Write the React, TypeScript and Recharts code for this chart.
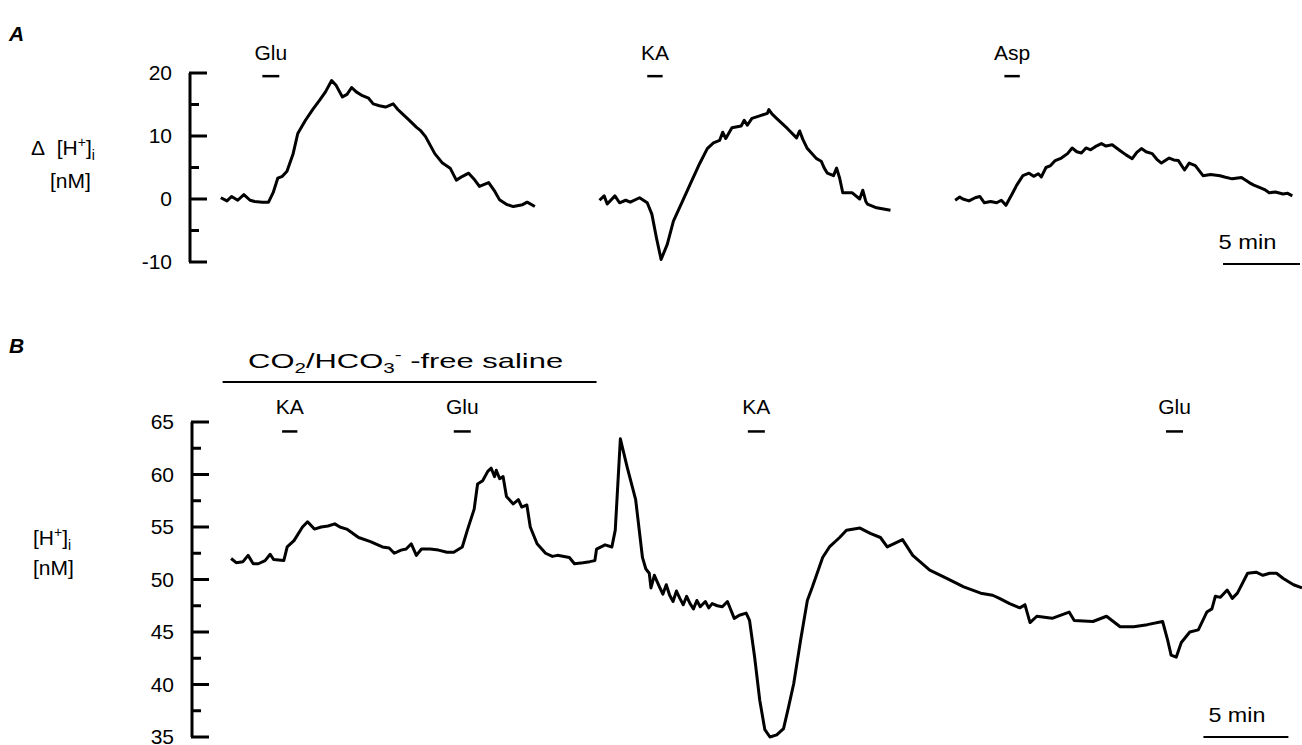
import { LineChart, Line, XAxis, YAxis, ReferenceLine } from "recharts";

const FONT = '"Liberation Sans", Arial, Helvetica, sans-serif';
const INK = "#000";
const FS = 21;

type Pt = [number, number];

// ── A: Δ[H+]i (nM) vs time (min), three separate recordings on one time base ──
const gluTraceA: Pt[] = [
  [2.0, 0.2], [2.4, -0.3], [2.7, 0.4], [3.1, -0.2], [3.5, 0.7], [3.9, -0.2], [4.2, -0.4], [4.7, -0.5],
  [5.1, -0.5], [5.4, 1.0], [5.7, 3.3], [6.0, 3.6], [6.3, 4.4], [6.7, 7.2], [7.0, 10.4], [7.5, 12.5],
  [8.0, 14.3], [8.4, 15.6], [8.8, 17.0], [9.2, 18.8], [9.5, 18.0], [9.9, 16.2], [10.2, 16.6], [10.5, 17.7],
  [10.8, 17.0], [11.2, 16.4], [11.6, 16.0], [11.9, 15.1], [12.3, 14.8], [12.7, 14.6], [13.2, 15.1], [13.5, 14.2],
  [13.8, 13.5], [14.2, 12.6], [14.7, 11.4], [15.0, 10.8], [15.3, 9.9], [15.9, 7.2], [16.4, 5.7], [16.9, 4.9],
  [17.3, 3.0], [17.7, 3.6], [18.1, 4.1], [18.5, 3.0], [18.8, 2.0], [19.4, 2.6], [19.8, 1.2], [20.1, -0.1],
  [20.6, -0.9], [21.0, -1.2], [21.6, -0.9], [21.9, -0.5], [22.4, -1.2],
];

const kaTraceA: Pt[] = [
  [26.6, -0.2], [26.9, 0.5], [27.1, -0.8], [27.6, 0.5], [27.9, -0.6], [28.3, -0.2], [28.6, -0.5], [29.2, 0.2],
  [29.7, -0.6], [30.0, -2.4], [30.3, -6.2], [30.6, -9.6], [31.0, -7.2], [31.4, -3.5], [32.0, -0.3], [32.5, 2.4],
  [33.1, 5.6], [33.6, 8.0], [34.0, 8.9], [34.4, 9.3], [34.6, 10.6], [34.8, 9.6], [35.2, 11.3], [35.8, 11.6],
  [36.0, 12.5], [36.2, 11.7], [36.5, 12.8], [37.0, 13.2], [37.5, 13.6], [37.6, 14.2], [37.8, 13.5], [38.1, 12.8],
  [38.8, 11.2], [39.4, 9.7], [39.6, 10.8], [39.8, 9.5], [40.1, 8.0], [40.7, 6.4], [41.0, 6.0], [41.2, 4.9],
  [41.4, 4.1], [41.8, 3.7], [42.0, 4.9], [42.2, 3.3], [42.4, 1.0], [43.0, 1.0], [43.5, 0], [43.7, 1.4],
  [43.9, -0.4], [44.0, -0.8], [44.6, -1.4], [45.5, -1.8],
];

const aspTraceA: Pt[] = [
  [49.7, -0.2], [50.0, 0.3], [50.2, 0], [50.6, -0.3], [51.0, 0.2], [51.3, 0.4], [51.6, -0.6], [52.0, -0.4],
  [52.4, -0.6], [52.7, -0.2], [53.0, -1.0], [53.4, 0.8], [53.7, 2.2], [54.1, 3.7], [54.5, 4.1], [54.8, 3.6],
  [55.1, 4.0], [55.3, 3.5], [55.6, 5.0], [55.9, 5.3], [56.2, 6.1], [56.6, 6.5], [57.0, 7.2], [57.3, 8.1],
  [57.6, 7.5], [57.9, 7.3], [58.2, 8.1], [58.5, 7.8], [58.8, 8.3], [59.2, 8.8], [59.5, 8.4], [59.9, 8.6],
  [60.4, 7.7], [60.8, 7.0], [61.2, 6.4], [61.5, 7.4], [61.8, 8.0], [62.1, 7.5], [62.5, 7.2], [62.8, 6.3],
  [63.1, 5.7], [63.6, 6.5], [63.9, 6.2], [64.2, 6.1], [64.6, 4.6], [64.9, 5.7], [65.3, 5.3], [65.8, 3.7],
  [66.3, 3.9], [66.9, 3.7], [67.2, 3.5], [67.7, 3.2], [68.3, 3.4], [68.8, 2.6], [69.1, 2.2], [69.5, 1.8],
  [69.8, 1.5], [70.1, 1.0], [70.5, 1.1], [71.0, 0.8], [71.3, 0.9], [71.6, 0.5],
];

const drugNamesA = ["Glu", "KA", "Asp"];
const drugStartA = [4.7, 29.7, 52.9];
const drugEndA = [5.8, 30.7, 53.9];
const ticksA = [-10, -5, 0, 5, 10, 15, 20];

// ── B: absolute [H+]i (nM), one continuous recording ──
const traceB: Pt[] = [
  [2.3, 52.0], [2.6, 51.6], [3.0, 51.7], [3.3, 52.3], [3.6, 51.5], [3.9, 51.5], [4.3, 51.8], [4.6, 52.4],
  [4.8, 51.9], [5.4, 51.8], [5.6, 53.1], [6.0, 53.7], [6.5, 55.0], [6.8, 55.5], [7.2, 54.8], [7.6, 55.0],
  [8.0, 55.1], [8.4, 55.3], [8.7, 55.0], [9.1, 54.8], [9.8, 54.0], [10.5, 53.6], [11.2, 53.1], [11.6, 53.0],
  [11.9, 52.5], [12.3, 52.8], [12.6, 52.9], [12.9, 53.4], [13.2, 52.3], [13.5, 52.9], [14.0, 52.9], [14.5, 52.8],
  [15.0, 52.6], [15.4, 52.6], [15.9, 53.1], [16.2, 54.7], [16.6, 56.7], [16.8, 59.1], [17.1, 59.4], [17.4, 60.3],
  [17.6, 60.6], [17.8, 59.8], [17.9, 60.4], [18.1, 59.6], [18.3, 59.8], [18.5, 57.9], [18.9, 57.2], [19.2, 57.6],
  [19.4, 56.9], [19.7, 57.1], [19.9, 55.0], [20.3, 53.4], [20.8, 52.5], [21.2, 52.2], [21.5, 52.3], [22.2, 52.1],
  [22.5, 51.5], [23.0, 51.6], [23.4, 51.7], [23.7, 51.8], [23.8, 52.9], [24.3, 53.3], [24.7, 53.1], [24.9, 54.7],
  [25.2, 63.4], [25.6, 60.7], [26.1, 57.6], [26.5, 52.1], [26.7, 51.0], [26.9, 50.6], [27.0, 49.2], [27.2, 50.4],
  [27.5, 49.3], [27.7, 48.6], [27.9, 49.5], [28.1, 48.5], [28.3, 47.9], [28.5, 48.9], [28.7, 48.2], [28.9, 47.6],
  [29.1, 48.4], [29.3, 47.7], [29.5, 47.2], [29.7, 48.0], [29.9, 47.4], [30.2, 47.9], [30.4, 47.3], [30.6, 47.7],
  [30.9, 47.5], [31.2, 47.4], [31.5, 47.9], [31.9, 46.3], [32.2, 46.6], [32.6, 46.8], [32.8, 46.1], [33.1, 42.6],
  [33.4, 38.5], [33.7, 35.7], [34.0, 35.0], [34.4, 35.2], [34.8, 35.8], [35.1, 37.9], [35.4, 40.1], [35.8, 44.2],
  [36.2, 48.0], [36.5, 49.3], [37.1, 52.1], [37.5, 53.1], [38.1, 54.0], [38.5, 54.7], [39.3, 54.9], [39.9, 54.4],
  [40.5, 54.0], [40.9, 53.1], [41.8, 53.8], [42.4, 52.3], [43.4, 50.9], [44.4, 50.1], [45.4, 49.3], [46.4, 48.7],
  [47.1, 48.5], [47.5, 48.2], [48.1, 47.7], [48.7, 47.3], [49.0, 47.6], [49.3, 45.9], [49.7, 46.5], [50.6, 46.3],
  [51.6, 46.9], [51.9, 46.1], [53.0, 46.0], [53.8, 46.5], [54.6, 45.5], [55.4, 45.5], [56.2, 45.7], [57.1, 46.0],
  [57.4, 44.2], [57.6, 42.8], [57.9, 42.6], [58.2, 44.0], [58.7, 45.0], [59.2, 45.2], [59.7, 46.9], [60.0, 47.2],
  [60.2, 48.4], [60.5, 48.3], [60.9, 49.0], [61.2, 48.2], [61.5, 48.7], [62.1, 50.6], [62.6, 50.7], [63.0, 50.4],
  [63.4, 50.6], [63.8, 50.6], [64.2, 50.1], [64.8, 49.5], [65.3, 49.2],
];

const drugNamesB = ["KA", "Glu", "KA", "Glu"];
const drugStartB = [5.3, 15.4, 32.7, 57.3];
const drugEndB = [6.2, 16.4, 33.7, 58.3];
const salineSpanB = [1.8, 23.8];
const ticksB = [35, 37.5, 40, 42.5, 45, 47.5, 50, 52.5, 55, 57.5, 60, 62.5, 65];

const SCALE_MIN = 5;

const rows = (pts: Pt[]) => pts.map(([t, v]) => ({ t, v }));

// y ticks point into the plot; only the major ones carry a number
const yTick = (axisX: number, step: number) => (props: any) => {
  const { y, payload } = props;
  const major = payload.value % step === 0;
  return (
    <g>
      <line x1={axisX - 1} x2={axisX + (major ? 17 : 9)} y1={y} y2={y} stroke={INK} strokeWidth={3} />
      {major && (
        <text x={axisX - 18} y={y + 7} textAnchor="end" fontSize={FS} fontFamily={FONT} fill={INK}>
          {payload.value}
        </text>
      )}
    </g>
  );
};

// short horizontal bar with a caption above it
const tagged = (label: string, lift = 15, dx = 0, width = 2.5, len?: number) => (p: any) => (
  <g>
    <line x1={p.x1} y1={p.y1} x2={p.x2} y2={p.y2} stroke={INK} strokeWidth={width} />
    <text
      x={(p.x1 + p.x2) / 2 + dx}
      y={p.y1 - lift}
      textAnchor="middle"
      fontSize={FS}
      fontFamily={FONT}
      fill={INK}
      textLength={len}
      lengthAdjust={len ? "spacingAndGlyphs" : undefined}
    >
      {label}
    </text>
  </g>
);

const salineBar = (p: any) => (
  <g>
    <line x1={p.x1} y1={p.y1} x2={p.x2} y2={p.y2} stroke={INK} strokeWidth={2} />
    <text
      x={(p.x1 + p.x2) / 2 - 4}
      y={p.y1 - 14}
      textAnchor="middle"
      fontSize={FS}
      fontFamily={FONT}
      fill={INK}
      textLength={315}
      lengthAdjust="spacingAndGlyphs"
    >
      CO<tspan fontSize={14} dy={5}>2</tspan>
      <tspan dy={-5}>/HCO</tspan>
      <tspan fontSize={14} dy={5}>3</tspan>
      <tspan fontSize={14} dy={-13}>-</tspan>
      <tspan dy={8}>{"\u00a0-free saline"}</tspan>
    </text>
  </g>
);

function PanelA() {
  const axisX = 190;
  return (
    <LineChart width={1302} height={300} margin={{ top: 73, right: 2, bottom: 38, left: axisX - 60 }}>
      <XAxis type="number" dataKey="t" domain={[0, 72.1]} hide />
      <YAxis
        type="number"
        width={60}
        domain={[-10, 20]}
        ticks={ticksA}
        interval={0}
        tickLine={false}
        axisLine={{ stroke: INK, strokeWidth: 3 }}
        tick={yTick(axisX, 10)}
      />
      {[gluTraceA, kaTraceA, aspTraceA].map((tr, i) => (
        <Line
          key={i}
          data={rows(tr)}
          dataKey="v"
          type="linear"
          stroke={INK}
          strokeWidth={3}
          strokeLinejoin="round"
          dot={false}
          activeDot={false}
          isAnimationActive={false}
        />
      ))}
      {drugNamesA.map((name, i) => (
        <ReferenceLine
          key={name}
          ifOverflow="visible"
          segment={[{ x: drugStartA[i], y: 19.5 }, { x: drugEndA[i], y: 19.5 }]}
          shape={tagged(name, 16)}
        />
      ))}
      <ReferenceLine
        ifOverflow="visible"
        segment={[{ x: 72.1 - SCALE_MIN, y: -10.3 }, { x: 72.1, y: -10.3 }]}
        shape={tagged(`${SCALE_MIN} min`, 15, -14, 2, 58)}
      />
    </LineChart>
  );
}

function PanelB() {
  const axisX = 192;
  return (
    <LineChart width={1302} height={425} margin={{ top: 92, right: 0, bottom: 18, left: axisX - 60 }}>
      <XAxis type="number" dataKey="t" domain={[0, 65.3]} hide />
      <YAxis
        type="number"
        width={60}
        domain={[35, 65]}
        ticks={ticksB}
        interval={0}
        tickLine={false}
        axisLine={{ stroke: INK, strokeWidth: 3 }}
        tick={yTick(axisX, 5)}
      />
      <Line
        data={rows(traceB)}
        dataKey="v"
        type="linear"
        stroke={INK}
        strokeWidth={3}
        strokeLinejoin="round"
        dot={false}
        activeDot={false}
        isAnimationActive={false}
      />
      <ReferenceLine
        ifOverflow="visible"
        segment={[{ x: salineSpanB[0], y: 68.8 }, { x: salineSpanB[1], y: 68.8 }]}
        shape={salineBar}
      />
      {drugNamesB.map((name, i) => (
        <ReferenceLine
          key={i}
          ifOverflow="visible"
          segment={[{ x: drugStartB[i], y: 64.1 }, { x: drugEndB[i], y: 64.1 }]}
          shape={tagged(name, 17)}
        />
      ))}
      <ReferenceLine
        ifOverflow="visible"
        segment={[{ x: 65.3 - SCALE_MIN - 0.8, y: 35 }, { x: 65.3 - 0.8, y: 35 }]}
        shape={tagged(`${SCALE_MIN} min`, 15, -9, 2, 57)}
      />
    </LineChart>
  );
}

export default function App() {
  const txt = { fontSize: FS, fontFamily: FONT, fill: INK } as const;
  return (
    <div style={{ position: "absolute", left: 0, top: 0, width: 1302, height: 745, background: "#fff", overflow: "hidden" }}>
      <div style={{ position: "absolute", left: 0, top: 0 }}>
        <PanelA />
      </div>
      <div style={{ position: "absolute", left: 0, top: 330 }}>
        <PanelB />
      </div>
      {/* panel letters and y-axis titles */}
      <svg width={1302} height={745} style={{ position: "absolute", left: 0, top: 0, pointerEvents: "none" }}>
        <text x={9} y={41} fontSize={21} fontWeight="bold" fontStyle="italic" fontFamily={FONT}>A</text>
        <text x={9} y={353} fontSize={21} fontWeight="bold" fontStyle="italic" fontFamily={FONT}>B</text>
        <text x={31} y={155} {...txt}>
          Δ{"\u00a0\u00a0"}[H<tspan fontSize={14} dy={-8}>+</tspan>
          <tspan dy={8}>]</tspan>
          <tspan fontSize={14} dy={5}>i</tspan>
        </text>
        <text x={50} y={188} {...txt}>[nM]</text>
        <text x={33} y={545} {...txt}>
          [H<tspan fontSize={14} dy={-8}>+</tspan>
          <tspan dy={8}>]</tspan>
          <tspan fontSize={14} dy={5}>i</tspan>
        </text>
        <text x={33} y={575} {...txt}>[nM]</text>
      </svg>
    </div>
  );
}
